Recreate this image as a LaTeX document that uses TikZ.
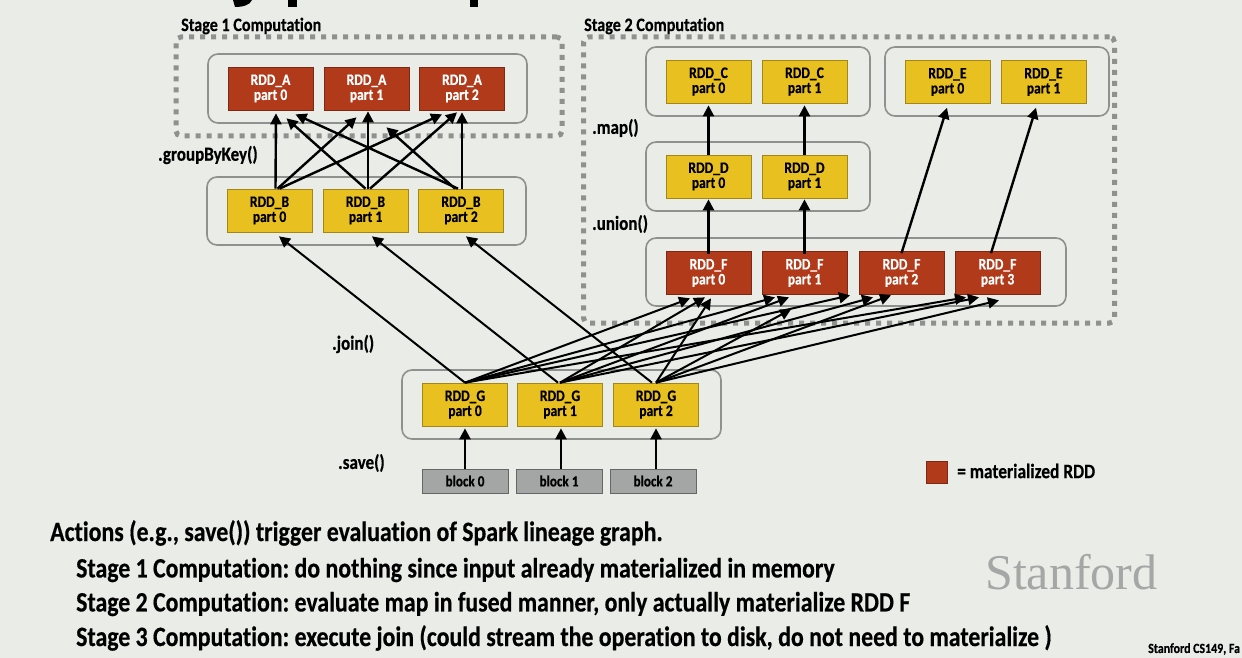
\documentclass[tikz,border=0pt]{standalone}
\usepackage{fontspec}
\setmainfont[RawFeature=-liga,BoldFeatures={FakeStretch=0.85,FakeBold=0.4}]{Carlito}
\newfontfamily\stanfordfont{Liberation Serif}
\AtBeginDocument{\frenchspacing}
\usetikzlibrary{arrows.meta}
\definecolor{bgc}{HTML}{E9ECE7}
\definecolor{redc}{HTML}{B03A1A}
\definecolor{yelc}{HTML}{E8C01F}
\definecolor{gryc}{HTML}{A4A6A5}
\definecolor{linec}{HTML}{8F918E}
\tikzset{
  box/.style={minimum width=85pt,minimum height=43pt,inner sep=0pt,align=center,font=\bfseries\fontsize{16}{15}\selectfont},
  redbox/.style={box,fill=redc,draw=redc!70!black,line width=.7pt,text=white},
  yelbox/.style={box,fill=yelc,draw=yelc!70!black,line width=.7pt,text=black},
  blockbox/.style={minimum width=86pt,minimum height=24pt,inner sep=0pt,fill=gryc,draw=gray!80!black,line width=.7pt,font=\bfseries\fontsize{15.5}{15.5}\selectfont},
  group/.style={draw=linec,line width=1.6pt,rounded corners=10pt,inner sep=0pt},
  stage/.style={draw=linec,line width=5pt,dash pattern=on 5pt off 6pt,rounded corners=5pt,inner sep=0pt},
  arr/.style={-{Triangle[length=11pt,width=11pt]},line width=2.4pt,black},
  thinarr/.style={arr,line width=2pt},
  lbl/.style={anchor=west,inner sep=0pt,font=\bfseries\fontsize{20}{20}\selectfont},
  body/.style={anchor=west,inner sep=0pt,font=\bfseries\fontsize{28}{28}\selectfont},
}
\newcommand{\grp}[5]{\node[group,minimum width=#4pt-#2pt,minimum height=#5pt-#3pt] (#1) at ({(#2+#4)/2},{(#3+#5)/2}) {};}
\begin{document}
\begin{tikzpicture}[x=1pt,y=-1pt]
\useasboundingbox (0,0) rectangle (1242,658);
\clip (0,0) rectangle (1242,658);
\fill[bgc] (0,0) rectangle (1242,658);
% cut-off title
\fill[black] (233,0) -- (252,0) .. controls (250,5) and (243,7) .. (235,7) -- cycle;
\fill[black] (288,0) rectangle (297,7);
\fill[black] (470,0) rectangle (478,7);
% stage frames
\node[stage,minimum width=386pt,minimum height=99pt] (s1) at (369,86.5) {};
\node[stage,minimum width=531pt,minimum height=286pt] (s2) at (849,180) {};
\node[lbl,font=\bfseries\fontsize{19}{19}\selectfont] (s1l) at (181,26) {Stage 1 Computation};
\node[lbl,font=\bfseries\fontsize{19}{19}\selectfont] (s2l) at (584,26) {Stage 2 Computation};
% groups
\grp{ga}{208}{54}{527}{123}
\grp{gb}{207}{177}{526}{245}
\grp{gc}{646}{47}{870}{116}
\grp{ge}{885}{47}{1109}{116}
\grp{gd}{646}{142}{870}{211}
\grp{gf}{646}{238}{1066}{306}
\grp{gg}{402}{370}{721}{439}
% op labels
\node[lbl] (l1) at (158,155) {.groupByKey()};
\node[lbl] (l2) at (592,128) {.map()};
\node[lbl] (l3) at (592,224) {.union()};
\node[lbl] (l4) at (332,344) {.join()};
\node[lbl] (l5) at (338,463) {.save()};
% partitions
\node[redbox] (a0) at (270.5,88.5) {RDD\_A\\part 0};
\node[redbox] (a1) at (366.5,88.5) {RDD\_A\\part 1};
\node[redbox] (a2) at (462,88.5) {RDD\_A\\part 2};
\node[yelbox] (b0) at (269.5,210.5) {RDD\_B\\part 0};
\node[yelbox] (b1) at (365.5,210.5) {RDD\_B\\part 1};
\node[yelbox] (b2) at (461,210.5) {RDD\_B\\part 2};
\node[yelbox] (c0) at (708.5,81.5) {RDD\_C\\part 0};
\node[yelbox] (c1) at (804.5,81.5) {RDD\_C\\part 1};
\node[yelbox] (e0) at (947.5,82) {RDD\_E\\part 0};
\node[yelbox] (e1) at (1043.5,82) {RDD\_E\\part 1};
\node[yelbox] (d0) at (708.5,176.5) {RDD\_D\\part 0};
\node[yelbox] (d1) at (804.5,176.5) {RDD\_D\\part 1};
\node[redbox] (f0) at (708.5,273) {RDD\_F\\part 0};
\node[redbox] (f1) at (804.5,273) {RDD\_F\\part 1};
\node[redbox] (f2) at (901.5,273) {RDD\_F\\part 2};
\node[redbox] (f3) at (997.5,273) {RDD\_F\\part 3};
\node[yelbox] (g0) at (465,404.5) {RDD\_G\\part 0};
\node[yelbox] (g1) at (560,404.5) {RDD\_G\\part 1};
\node[yelbox] (g2) at (656,404.5) {RDD\_G\\part 2};
\node[blockbox] (k0) at (465,481) {block 0};
\node[blockbox] (k1) at (559,481) {block 1};
\node[blockbox] (k2) at (653,481) {block 2};
% B -> A
\draw[arr] ([xshift=6pt]b0.north) -- ([xshift=5.5pt,yshift=-3pt]a0.south);
\draw[arr] ([xshift=8pt]b0.north) -- ([xshift=-10pt,yshift=-7pt]a1.south);
\draw[arr] ([xshift=10pt]b0.north) -- ([xshift=-20pt,yshift=-4pt]a2.south);
\draw[arr] (b1.north) -- ([xshift=16pt,yshift=-8pt]a0.south);
\draw[arr] ([xshift=2.5pt]b1.north) -- ([xshift=1.5pt,yshift=-1pt]a1.south);
\draw[arr] ([xshift=4.5pt]b1.north) -- ([xshift=-5pt,yshift=-2pt]a2.south);
\draw[arr] ([xshift=-3pt]b2.north) -- ([xshift=25pt,yshift=-4pt]a0.south);
\draw[arr] ([xshift=-6pt]b2.north) -- ([xshift=20pt,yshift=-17pt]a1.south);
\draw[arr] ([xshift=1pt]b2.north) -- ([yshift=-2pt]a2.south);
% G -> B
\draw[thinarr] (g0.north) -- ([xshift=9.5pt,yshift=-4pt]b0.south);
\draw[thinarr] ([xshift=-2pt]g1.north) -- ([xshift=6.5pt,yshift=-4pt]b1.south);
\draw[thinarr] ([xshift=-4pt]g2.north) -- ([xshift=5pt,yshift=-4pt]b2.south);
% G -> F
\draw[thinarr] (g0.north) -- ([xshift=-18.5pt,yshift=-3.5pt]f0.south);
\draw[thinarr] (g0.north) -- ([xshift=-29.5pt,yshift=-2.5pt]f1.south);
\draw[thinarr] (g0.north) -- ([xshift=-51.5pt,yshift=-0.5pt]f2.south);
\draw[thinarr] (g0.north) -- ([xshift=-31.5pt,yshift=-2.5pt]f3.south);
\draw[thinarr] (g1.north) -- ([xshift=-3.5pt,yshift=-2.5pt]f0.south);
\draw[thinarr] (g1.north) -- ([xshift=-15.5pt,yshift=-2.5pt]f1.south);
\draw[thinarr] (g1.north) -- ([xshift=-28.5pt,yshift=-2.5pt]f2.south);
\draw[thinarr] (g1.north) -- ([xshift=-18.5pt,yshift=-2.5pt]f3.south);
\draw[thinarr] (g2.north) -- ([xshift=2.5pt,yshift=-3.5pt]f0.south);
\draw[thinarr] (g2.north) -- ([xshift=-13.5pt,yshift=-14.5pt]f1.south);
\draw[thinarr] (g2.north) -- ([xshift=-10.5pt,yshift=-0.5pt]f2.south);
\draw[thinarr] (g2.north) -- ([xshift=1.5pt,yshift=-5.5pt]f3.south);
% chains
\draw[arr] ([yshift=-3pt]f0.north) -- ([yshift=-1pt]d0.south);
\draw[arr] ([yshift=-3pt]f1.north) -- ([yshift=-1pt]d1.south);
\draw[arr] (d0.north) -- ([yshift=-2pt]c0.south);
\draw[arr] (d1.north) -- ([yshift=-2pt]c1.south);
\draw[arr] ([yshift=-2pt]f2.north) -- ([xshift=-.5pt,yshift=-4pt]e0.south);
\draw[arr] ([xshift=-6.5pt,yshift=-2pt]f3.north) -- ([xshift=-7.5pt,yshift=-4pt]e1.south);
\draw[arr] (k0.north) -- ([yshift=-2pt]g0.south);
\draw[arr] ([xshift=2pt]k1.north) -- ([xshift=1pt,yshift=-2pt]g1.south);
\draw[arr] ([xshift=3pt]k2.north) -- ([yshift=-2pt]g2.south);
% legend
\node[fill=redc,draw=redc!70!black,line width=.7pt,minimum width=21pt,minimum height=22pt,inner sep=0pt] (lg) at (936.5,472) {};
\node[lbl,font=\bfseries\fontsize{20.5}{20.5}\selectfont] (lgt) at (957,471) {= materialized RDD};
% body
\node[body] (t1) at (50,533) {Actions (e.g., save()) trigger evaluation of Spark lineage graph.};
\node[body] (t2) at (76,570) {Stage 1 Computation: do nothing since input already materialized in memory};
\node[body] (t3) at (76,604) {Stage 2 Computation: evaluate map in fused manner, only actually materialize RDD F};
\node[body] (t4) at (76,638) {Stage 3 Computation: execute join (could stream the operation to disk, do not need to materialize )};
\node[anchor=west,inner sep=0pt,text=gray!70,font=\stanfordfont\fontsize{50}{50}\selectfont] (st) at (985,572) {Stanford};
\node[anchor=west,inner sep=0pt,font=\bfseries\fontsize{14}{14}\selectfont] (cs) at (1148,649) {Stanford CS149, Fa};
\end{tikzpicture}
\end{document}
